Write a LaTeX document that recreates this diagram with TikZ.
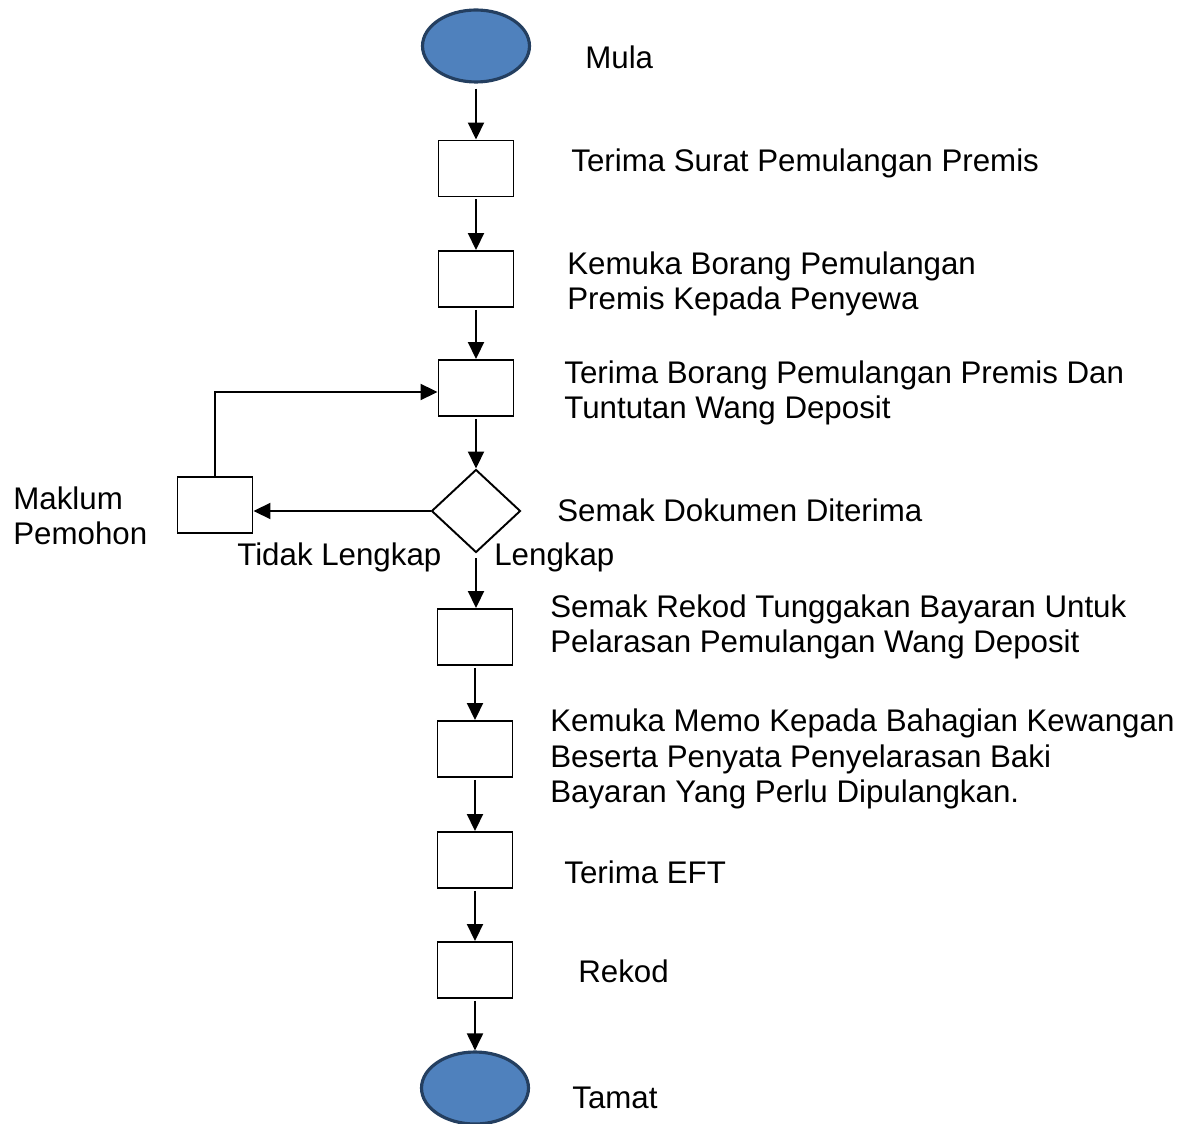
\documentclass[tikz,border=0pt]{standalone}
\usepackage{fontspec}
\setmainfont{Liberation Sans}
\usetikzlibrary{shapes.geometric,arrows.meta}
\definecolor{termfill}{HTML}{4F81BD}
\definecolor{termline}{HTML}{243F60}
\begin{document}
\begin{tikzpicture}[x=0.02cm,y=-0.02cm,
  font=\fontsize{17.8}{20.2}\selectfont,
  terminal/.style={ellipse,draw=termline,fill=termfill,line width=1.8pt,
    minimum width=2.14cm,minimum height=1.44cm,inner sep=0pt},
  stepbox/.style={rectangle,draw,line width=1.1pt,minimum width=1.5cm,
    minimum height=1.12cm,inner sep=0pt},
  decision/.style={diamond,draw,line width=1.1pt,minimum width=1.78cm,
    minimum height=1.66cm,inner sep=0pt},
  flow/.style={line width=1.1pt,-{Triangle[length=0.34cm,width=0.32cm]}},
  label/.style={anchor=west,align=left,inner sep=0pt}]
  \useasboundingbox (0,0) rectangle (1189,1124);

  % main column
  \node[terminal] (start) at (476,46) {};
  \node[stepbox]  (b1) at (476,168.5) {};
  \node[stepbox]  (b2) at (476,279) {};
  \node[stepbox]  (b3) at (476,388) {};
  \node[decision] (chk) at (476,511) {};
  \node[stepbox]  (b4) at (475,637) {};
  \node[stepbox]  (b5) at (475,749) {};
  \node[stepbox]  (b6) at (475,860) {};
  \node[stepbox]  (b7) at (475,970) {};
  \node[terminal] (end) at (475,1088) {};
  % side branch
  \node[stepbox]  (notify) at (215,505) {};

  % connectors
  \draw[flow,shorten <=0.1cm] (start.south) -- (b1.north);
  \draw[flow,shorten <=0.04cm] (b1.south) -- (b2.north);
  \draw[flow,shorten <=0.04cm] (b2.south) -- (b3.north);
  \draw[flow,shorten <=0.04cm] (b3.south) -- (chk.north);
  \draw[flow,shorten <=0.1cm] (chk.south) -- (chk.south |- b4.north);
  \draw[flow,shorten <=0.04cm] (b4.south) -- (b5.north);
  \draw[flow,shorten <=0.04cm] (b5.south) -- (b6.north);
  \draw[flow,shorten <=0.04cm] (b6.south) -- (b7.north);
  \draw[flow,shorten <=0.04cm] (b7.south) -- (end.north);
  \draw[flow] (chk.west) -- (chk.west -| notify.east);
  \draw[flow] (notify.north) |- ([yshift=-0.08cm]b3.west);

  % labels
  \node[label] (tStart) at (585,57) {Mula};
  \node[label] (t1) at (571,163) {Terima Surat Pemulangan Premis};
  \node[label] (t2) at (567,284) {Kemuka Borang Pemulangan\\Premis Kepada Penyewa};
  \node[label] (t3) at (564,393) {Terima Borang Pemulangan Premis Dan\\Tuntutan Wang Deposit};
  \node[label] (tChk) at (557,510) {Semak Dokumen Diterima};
  \node[label] (tNo) at (237,557) {Tidak Lengkap};
  \node[label] (tYes) at (494,557) {Lengkap};
  \node[label] (t4) at (550,627) {Semak Rekod Tunggakan Bayaran Untuk\\Pelarasan Pemulangan Wang Deposit};
  \node[label] (t5) at (550,759) {Kemuka Memo Kepada Bahagian Kewangan\\Beserta Penyata Penyelarasan Baki\\Bayaran Yang Perlu Dipulangkan.};
  \node[label] (t6) at (564,872) {Terima EFT};
  \node[label] (t7) at (578,971) {Rekod};
  \node[label] (tEnd) at (572,1098) {Tamat};
  \node[label] (tNotify) at (13,516) {Maklum\\Pemohon};
\end{tikzpicture}
\end{document}
